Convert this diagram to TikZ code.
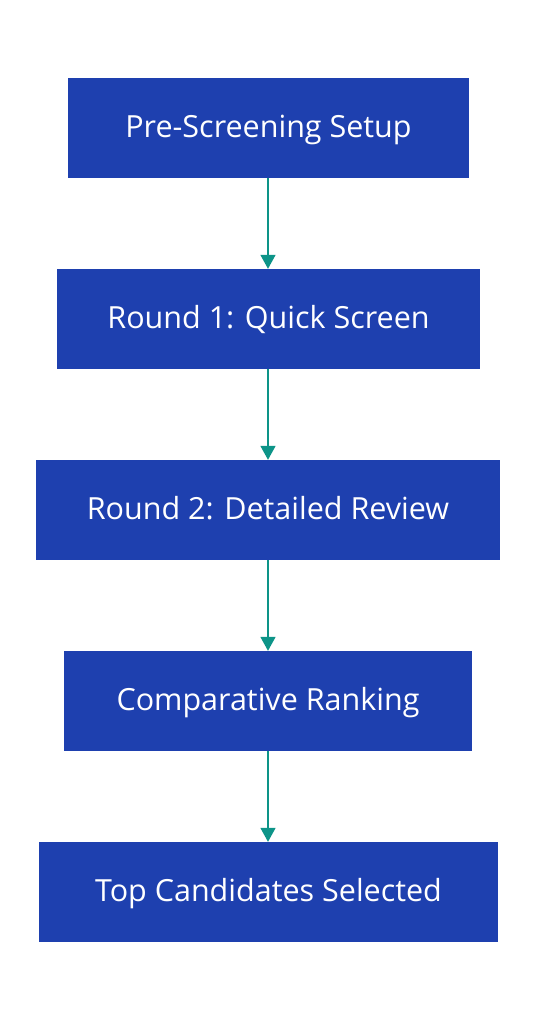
\documentclass[tikz,border=0pt]{standalone}
\usepackage{fontspec}
\setmainfont{Open Sans}
\usetikzlibrary{arrows.meta}
\definecolor{boxblue}{HTML}{1E40AF}
\definecolor{arrteal}{HTML}{0D9488}
\begin{document}
\begin{tikzpicture}[x=1pt,y=-1pt,
  stepbox/.style={fill=boxblue,draw=none,text=white,minimum height=100pt,inner sep=0pt,text height=23pt,text depth=4pt,font=\fontsize{30.5}{36}\selectfont},
  conn/.style={draw=arrteal,line width=1.6pt,-{Triangle[length=14pt,width=15pt]}}]
\useasboundingbox (0,0) rectangle (536,1020);
\node[stepbox,minimum width=401pt] (a) at (268.5,128) {Pre-Screening Setup};
\node[stepbox,minimum width=423pt] (b) at (268.5,319) {Round 1: Quick Screen};
\node[stepbox,minimum width=464pt] (c) at (268,510) {Round 2: Detailed Review};
\node[stepbox,minimum width=408pt] (d) at (268,701) {Comparative Ranking};
\node[stepbox,minimum width=459pt] (e) at (268.5,892) {Top Candidates Selected};
\draw[conn] (a.south -| 268,0) -- (b.north -| 268,0);
\draw[conn] (b.south -| 268,0) -- (c.north -| 268,0);
\draw[conn] (c.south -| 268,0) -- (d.north -| 268,0);
\draw[conn] (d.south -| 268,0) -- (e.north -| 268,0);
\end{tikzpicture}
\end{document}
